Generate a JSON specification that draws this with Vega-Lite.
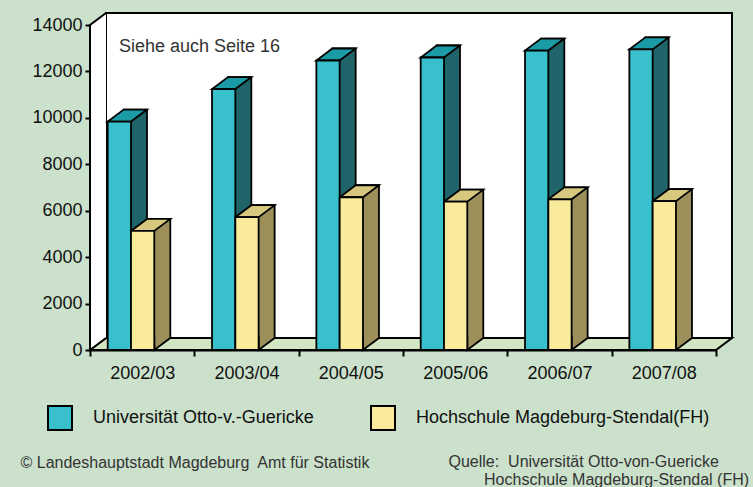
{
  "$schema": "https://vega.github.io/schema/vega-lite/v6.json",
  "width": 626,
  "height": 325,
  "autosize": {"type": "none"},
  "padding": {"left": 106, "top": 13, "right": 21, "bottom": 149},
  "background": "#cbe1cb",
  "config": {
    "font": "Liberation Sans",
    "view": {"fill": "#ffffff", "stroke": "#000000", "strokeWidth": 2}
  },
  "data": {
    "values": [
      {"jahr": "2002/03", "series": "Universität Otto-v.-Guericke", "value": 9840},
      {"jahr": "2003/04", "series": "Universität Otto-v.-Guericke", "value": 11240},
      {"jahr": "2004/05", "series": "Universität Otto-v.-Guericke", "value": 12470},
      {"jahr": "2005/06", "series": "Universität Otto-v.-Guericke", "value": 12600},
      {"jahr": "2006/07", "series": "Universität Otto-v.-Guericke", "value": 12900},
      {"jahr": "2007/08", "series": "Universität Otto-v.-Guericke", "value": 12950},
      {"jahr": "2002/03", "series": "Hochschule Magdeburg-Stendal(FH)", "value": 5130},
      {"jahr": "2003/04", "series": "Hochschule Magdeburg-Stendal(FH)", "value": 5720},
      {"jahr": "2004/05", "series": "Hochschule Magdeburg-Stendal(FH)", "value": 6580},
      {"jahr": "2005/06", "series": "Hochschule Magdeburg-Stendal(FH)", "value": 6390},
      {"jahr": "2006/07", "series": "Hochschule Magdeburg-Stendal(FH)", "value": 6490},
      {"jahr": "2007/08", "series": "Hochschule Magdeburg-Stendal(FH)", "value": 6410}
    ]
  },
  "encoding": {
    "x": {
      "field": "jahr",
      "type": "nominal",
      "sort": null,
      "scale": {"type": "band", "paddingInner": 0, "paddingOuter": 0},
      "axis": {
        "orient": "bottom",
        "offset": 12,
        "position": -16,
        "tickBand": "extent",
        "tickSize": 6,
        "tickWidth": 2,
        "tickColor": "#000000",
        "domainColor": "#000000",
        "domainWidth": 2,
        "labelAngle": 0,
        "labelFontSize": 18,
        "labelColor": "#111111",
        "labelPadding": 8,
        "title": "© Landeshauptstadt Magdeburg\u00a0 Amt für Statistik",
        "titleX": -70,
        "titleY": 117,
        "titleAlign": "left",
        "titleBaseline": "alphabetic",
        "titleFontSize": 16,
        "titleFontWeight": "normal",
        "titleColor": "#333333"
      }
    },
    "y": {
      "field": "value",
      "type": "quantitative",
      "scale": {"domain": [0, 14000], "nice": false},
      "axis": {
        "orient": "left",
        "offset": 16,
        "position": 12,
        "values": [0, 2000, 4000, 6000, 8000, 10000, 12000, 14000],
        "format": "d",
        "grid": false,
        "tickSize": 5,
        "tickWidth": 2,
        "tickColor": "#000000",
        "domainColor": "#000000",
        "domainWidth": 2,
        "labelFontSize": 18,
        "labelColor": "#111111",
        "labelPadding": 3,
        "title": ["Quelle:\u00a0 Universität Otto-von-Guericke", "\u200b\u00a0\u00a0\u00a0\u00a0\u00a0\u00a0\u00a0\u00a0Hochschule Magdeburg-Stendal (FH)"],
        "titleX": 358,
        "titleY": 441.5,
        "titleAngle": 0,
        "titleAlign": "left",
        "titleBaseline": "alphabetic",
        "titleFontSize": 16,
        "titleFontWeight": "normal",
        "titleColor": "#333333",
        "titleLineHeight": 18
      }
    }
  },
  "layer": [
    {
      "transform": [{"filter": "datum.jahr === '2002/03' && datum.series === 'Universität Otto-v.-Guericke'"}],
      "mark": {"type": "point", "shape": "M-68.17,12L-52.17,0L573.83,0L557.83,12Z", "size": 4, "filled": true, "opacity": 1, "fill": "#d2e6c4", "stroke": "#000000", "strokeWidth": 2},
      "encoding": {"y": {"datum": 0}}
    },
    {
      "transform": [{"filter": "datum.jahr === '2002/03' && datum.series === 'Universität Otto-v.-Guericke'"}],
      "mark": {"type": "point", "shape": "M-52.17,0L-68.17,12L-68.17,337L-52.17,325", "size": 4, "filled": true, "opacity": 1, "fill": "#ffffff", "stroke": "#000000", "strokeWidth": 2},
      "encoding": {"y": {"datum": 14000}}
    },
    {
      "transform": [{"filter": "datum.series === 'Universität Otto-v.-Guericke'"}],
      "mark": {"type": "bar", "width": 23.3, "xOffset": -22.82, "fill": "#1f6469", "stroke": "#000000", "strokeWidth": 1.8}
    },
    {
      "transform": [{"filter": "datum.series === 'Hochschule Magdeburg-Stendal(FH)'"}],
      "mark": {"type": "bar", "width": 23.3, "xOffset": 0.48, "fill": "#9c8f5a", "stroke": "#000000", "strokeWidth": 1.8}
    },
    {
      "transform": [{"filter": "datum.series === 'Hochschule Magdeburg-Stendal(FH)'"}],
      "mark": {"type": "point", "shape": "M-3.87,-1.5L-3.87,12L12.13,0L12.13,-1.5", "size": 4, "filled": true, "opacity": 1, "fill": "#9c8f5a", "stroke": "#000000", "strokeWidth": 1.8},
      "encoding": {"y": {"datum": 0}}
    },
    {
      "transform": [{"filter": "datum.series === 'Universität Otto-v.-Guericke'"}],
      "mark": {"type": "point", "shape": "M-50.47,12L-27.17,12L-11.17,0L-34.47,0Z", "size": 4, "filled": true, "opacity": 1, "fill": "#1a9ba6", "stroke": "#000000", "strokeWidth": 1.8}
    },
    {
      "transform": [{"filter": "datum.series === 'Hochschule Magdeburg-Stendal(FH)'"}],
      "mark": {"type": "point", "shape": "M-27.17,12L-3.87,12L12.13,0L-11.17,0Z", "size": 4, "filled": true, "opacity": 1, "fill": "#d6c97f", "stroke": "#000000", "strokeWidth": 1.8}
    },
    {
      "transform": [{"filter": "datum.series === 'Universität Otto-v.-Guericke'"}],
      "mark": {"type": "bar", "width": 23.3, "xOffset": -38.82, "yOffset": 12, "y2Offset": 12, "stroke": "#000000", "strokeWidth": 1.8, "opacity": 1},
      "encoding": {
        "fill": {
          "field": "series",
          "type": "nominal",
          "scale": {"domain": ["Universität Otto-v.-Guericke", "Hochschule Magdeburg-Stendal(FH)"], "range": ["#38c0cd", "#f9eb9b"]},
          "legend": {
            "orient": "none",
            "legendX": -59,
            "legendY": 392,
            "direction": "horizontal",
            "title": null,
            "padding": 0,
            "symbolType": "square",
            "symbolSize": 576,
            "symbolStrokeColor": "#000000",
            "symbolStrokeWidth": 2,
            "symbolOpacity": 1,
            "labelFontSize": 18,
            "labelColor": "#111111",
            "labelOffset": 20,
            "labelLimit": 0,
            "columnPadding": 53
          }
        }
      }
    },
    {
      "transform": [{"filter": "datum.series === 'Hochschule Magdeburg-Stendal(FH)'"}],
      "mark": {"type": "bar", "width": 23.3, "xOffset": -15.52, "yOffset": 12, "y2Offset": 12, "stroke": "#000000", "strokeWidth": 1.8, "opacity": 1},
      "encoding": {
        "fill": {"field": "series", "type": "nominal"}
      }
    },
    {
      "transform": [{"filter": "datum.jahr === '2002/03' && datum.series === 'Universität Otto-v.-Guericke'"}],
      "mark": {"type": "text", "text": "Siehe auch Seite 16", "align": "left", "baseline": "alphabetic", "dx": -39.2, "fontSize": 18, "color": "#333333"},
      "encoding": {"y": {"datum": 12340}}
    }
  ]
}
